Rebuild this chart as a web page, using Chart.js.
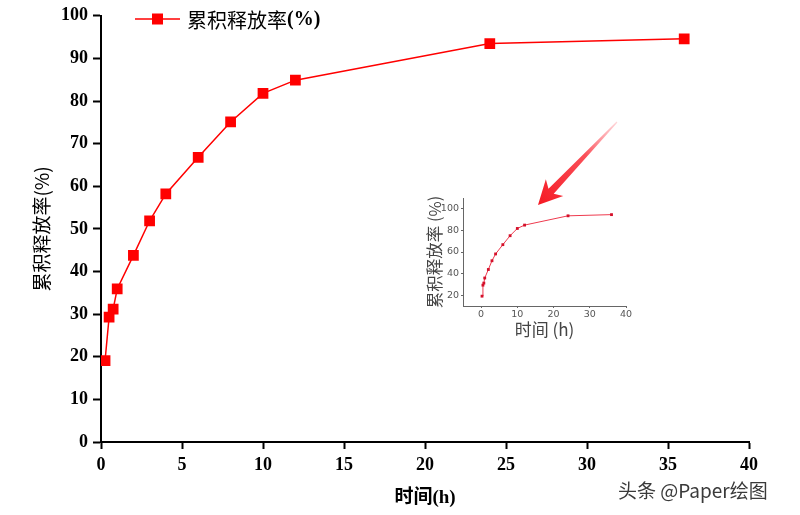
<!DOCTYPE html>
<html>
<head>
<meta charset="utf-8">
<script src="https://cdn.jsdelivr.net/npm/chart.js@4.4.0/dist/chart.umd.min.js"></script>
<style>
  html, body { margin: 0; padding: 0; background: #fff; }
  #wrap { position: relative; width: 800px; height: 515px; overflow: hidden; }
  #main { position: absolute; left: 0; top: 0; }
  #inset { position: absolute; left: 420px; top: 190px; }
  #wm { position: absolute; left: 618px; top: 476px; font: 19px 'Noto Sans CJK SC', sans-serif; color: #3a3a3a;
        text-shadow: 0 0 2px #fff, 0 0 2px #fff; white-space: nowrap; }
</style>
</head>
<body>
<div id="wrap">
  <canvas id="main" width="800" height="515"></canvas>
  <canvas id="inset" width="220" height="150"></canvas>
  <div id="wm">头条 @Paper绘图</div>
</div>
<script>
// ---- data ----
const times = [0.25, 0.5, 0.75, 1, 2, 3, 4, 6, 8, 10, 12, 24, 36];
const release = [19.1, 29.3, 31.2, 35.9, 43.8, 51.9, 58.2, 66.8, 75.1, 81.8, 84.9, 93.5, 94.6];
const seriesLabel = '累积释放率(%)';
const xTitle = '时间(h)';
const yTitle = '累积释放率(%)';
const insetXTitle = '时间 (h)';
const insetYTitle = '累积释放率 (%)';
const insetXTicks = [0, 10, 20, 30, 40];
const insetYTicks = [20, 40, 60, 80, 100];

const points = times.map((t, i) => ({ x: t, y: release[i] }));
const RED = '#ff0000';
const serif = "'Liberation Serif', 'Times New Roman', 'Noto Sans CJK SC', serif";

// custom legend + arrow plugin for main chart
const mainDeco = {
  id: 'mainDeco',
  afterDraw(chart) {
    const ctx = chart.ctx;
    const ds = chart.data.datasets[0];
    const ca = chart.chartArea;
    // legend
    const ly = 19;
    const lx0 = ca.left + 34, lx1 = ca.left + 79;
    ctx.save();
    ctx.strokeStyle = ds.borderColor;
    ctx.lineWidth = ds.borderWidth;
    ctx.beginPath(); ctx.moveTo(lx0, ly); ctx.lineTo(lx1, ly); ctx.stroke();
    ctx.fillStyle = ds.pointBackgroundColor;
    const mid = (lx0 + lx1) / 2;
    ctx.fillRect(mid - 5.5, ly - 5.5, 11, 11);
    ctx.fillStyle = '#000';
    ctx.textBaseline = 'middle';
    ctx.font = "20px 'Noto Sans CJK SC', serif";
    const label = ds.label;
    const p = label.indexOf('(');
    const cn = label.slice(0, p), rest = label.slice(p);
    ctx.fillText(cn, lx1 + 7, ly + 1);
    const w = ctx.measureText(cn).width;
    ctx.font = "bold 20px " + serif;
    ctx.fillText(rest, lx1 + 7 + w, ly + 1);
    ctx.restore();

    // arrow pointing at inset
    const tail = { x: 617, y: 122 }, head = { x: 538, y: 205 };
    const ang = Math.atan2(head.y - tail.y, head.x - tail.x);
    const len = Math.hypot(head.x - tail.x, head.y - tail.y);
    ctx.save();
    ctx.translate(tail.x, tail.y);
    ctx.rotate(ang);
    const g = ctx.createLinearGradient(0, 0, len, 0);
    g.addColorStop(0, 'rgba(255,120,130,0.3)');
    g.addColorStop(0.4, 'rgba(250,60,70,0.9)');
    g.addColorStop(1, 'rgba(245,25,35,1)');
    ctx.fillStyle = g;
    const hl = 24, hw = 12;
    ctx.beginPath();
    ctx.moveTo(0, -0.6);
    ctx.lineTo(len - hl + 5, -3.6);
    ctx.lineTo(len - hl, -hw);
    ctx.lineTo(len, 0);
    ctx.lineTo(len - hl, hw);
    ctx.lineTo(len - hl + 5, 3.6);
    ctx.lineTo(0, 0.6);
    ctx.closePath();
    ctx.fill();
    ctx.restore();
  }
};

new Chart(document.getElementById('main'), {
  type: 'line',
  data: {
    datasets: [{
      label: seriesLabel,
      data: points,
      borderColor: RED,
      backgroundColor: RED,
      pointBackgroundColor: RED,
      pointBorderColor: RED,
      borderWidth: 1.5,
      pointStyle: 'rect',
      pointRadius: 7.6,
      pointBorderWidth: 0,
      tension: 0
    }]
  },
  options: {
    responsive: false,
    animation: false,
    layout: { padding: { left: 0, right: 51, top: 14, bottom: 0 } },
    plugins: { legend: { display: false }, tooltip: { enabled: false } },
    scales: {
      x: {
        type: 'linear', min: 0, max: 40,
        afterFit: s => { s.height = 73; },
        ticks: { stepSize: 5, color: '#000', padding: 6, font: { family: serif, size: 18, weight: 'bold' }, maxRotation: 0 },
        grid: { drawOnChartArea: false, drawTicks: true, tickLength: 7, tickColor: '#000', tickWidth: 2 },
        border: { display: true, color: '#000', width: 2 },
        title: { display: true, text: xTitle, color: '#000', font: { family: serif, size: 19, weight: 'bold' }, padding: { top: 0, bottom: 6 } }
      },
      y: {
        type: 'linear', min: 0, max: 100,
        afterFit: s => { s.width = 101; },
        ticks: { stepSize: 10, color: '#000', padding: 5, font: { family: serif, size: 18, weight: 'bold' } },
        grid: { drawOnChartArea: false, drawTicks: true, tickLength: 8, tickColor: '#000', tickWidth: 2 },
        border: { display: true, color: '#000', width: 2 },
        title: { display: true, text: yTitle, color: '#000', font: { family: "'Noto Sans CJK SC', serif", size: 19, weight: 'normal' }, padding: { top: 30, bottom: 0 } }
      }
    }
  },
  plugins: [mainDeco]
});

// inset chart
const setTicks = (vals) => (s) => { s.ticks = vals.map(v => ({ value: v })); };
new Chart(document.getElementById('inset'), {
  type: 'line',
  data: {
    datasets: [{
      label: seriesLabel,
      data: points,
      borderColor: '#ee3a4e',
      pointBackgroundColor: '#d4102a',
      pointBorderColor: '#d4102a',
      borderWidth: 1,
      pointStyle: 'rect',
      pointRadius: 2,
      pointBorderWidth: 0,
      tension: 0
    }]
  },
  options: {
    responsive: false,
    animation: false,
    layout: { padding: { left: 0, right: 14, top: 8, bottom: 0 } },
    plugins: { legend: { display: false }, tooltip: { enabled: false } },
    scales: {
      x: {
        type: 'linear', min: -5, max: 40,
        afterBuildTicks: setTicks(insetXTicks),
        afterFit: s => { s.height = 34; },
        ticks: { color: '#555', padding: 1, font: { family: "'DejaVu Sans', sans-serif", size: 9.5 }, maxRotation: 0 },
        grid: { drawOnChartArea: false, drawTicks: true, tickLength: 2, tickColor: '#666', tickWidth: 1 },
        border: { display: true, color: '#666', width: 1 },
        title: { display: true, text: insetXTitle, color: '#444', font: { family: "'Noto Sans CJK SC', serif", size: 17 }, padding: { top: 0, bottom: 0 } }
      },
      y: {
        type: 'linear', min: 10, max: 110,
        afterBuildTicks: setTicks(insetYTicks),
        afterFit: s => { s.width = 43; },
        ticks: { color: '#555', padding: 2, font: { family: "'DejaVu Sans', sans-serif", size: 9.5 } },
        grid: { drawOnChartArea: false, drawTicks: true, tickLength: 2, tickColor: '#666', tickWidth: 1 },
        border: { display: true, color: '#666', width: 1 },
        title: { display: true, text: insetYTitle, color: '#444', font: { family: "'Noto Sans CJK SC', serif", size: 16.5 }, padding: { top: 5, bottom: 0 } }
      }
    }
  }
});
</script>
</body>
</html>
